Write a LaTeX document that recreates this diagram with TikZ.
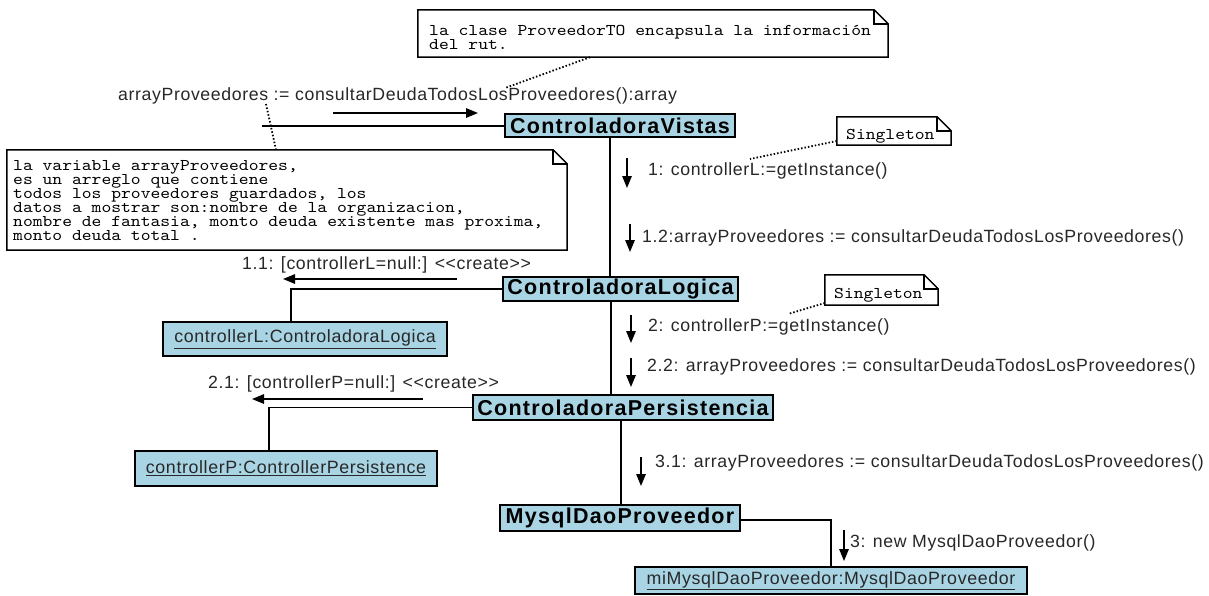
\documentclass[tikz,border=0pt]{standalone}
\usepackage{fontspec}
\setmainfont{Liberation Sans}
\newfontfamily\lblfont[LetterSpace=3.5]{Liberation Sans}
\newfontfamily\boxfont[LetterSpace=6]{Liberation Sans}
\newfontfamily\notefont[FakeStretch=1.14]{lmmono10-regular.otf}
\usetikzlibrary{arrows.meta,calc}
\definecolor{boxblue}{RGB}{168,212,228}
\definecolor{lblgray}{RGB}{40,40,40}
\lineskiplimit=-50pt
\tikzset{
  obj/.style={draw=black, line width=1.6pt, fill=boxblue, inner sep=0pt,
    font=\boxfont\bfseries\fontsize{21.5}{24}\selectfont},
  inst/.style={draw=black, line width=1.6pt, fill=boxblue, inner sep=0pt,
    font=\lblfont\fontsize{17.8}{20}\selectfont, text=lblgray},
  lbl/.style={inner sep=0pt, anchor=west, font=\lblfont\fontsize{17.7}{20}\selectfont, text=lblgray},
  msg/.style={line width=1.5pt, -{Triangle[length=12pt,width=9.5pt]}},
  link/.style={line width=1.6pt},
  dots/.style={line width=1.8pt, dash pattern=on 1.5pt off 2pt},
  notebox/.style={inner sep=0pt},
  noteline/.style={line width=1.5pt, draw=black},
  notetext/.style={inner sep=0pt, anchor=north west, align=left,
    font=\notefont\fontsize{16.4}{14}\selectfont}
}
\newcommand\dogear[1]{%
  \draw[noteline, fill=white] (#1.south west) -- (#1.north west) -- ([xshift=-14pt]#1.north east)
    -- ([yshift=-14pt]#1.north east) -- (#1.south east) -- cycle;
  \draw[noteline] ([xshift=-14pt]#1.north east) |- ([yshift=-14pt]#1.north east);}
\begin{document}
\begin{tikzpicture}[x=1pt,y=-1pt]
\useasboundingbox[fill=white] (0,0) rectangle (1209,595);

% notes
\node[notebox, minimum width=470pt, minimum height=47pt] (topnote) at (653,33.5) {};
\dogear{topnote}
\node[notetext] (topnotetext) at (429,25) {la clase ProveedorTO encapsula la información\\del rut.};

\node[notebox, minimum width=560pt, minimum height=100pt] (leftnote) at (287,200) {};
\dogear{leftnote}
\node[notetext] (leftnotetext) at (13,160) {la variable arrayProveedores,\\es un arreglo que contiene\\todos los proveedores guardados, los\\datos a mostrar son:nombre de la organizacion,\\nombre de fantasia, monto deuda existente mas proxima,\\monto deuda total .};

\node[notebox, minimum width=114pt, minimum height=28pt] (single1) at (894,131) {};
\dogear{single1}
\node[notetext] (single1text) at (846,129) {Singleton};

\node[notebox, minimum width=113pt, minimum height=30pt] (single2) at (881.5,290) {};
\dogear{single2}
\node[notetext] (single2text) at (834,288) {Singleton};

% objects
\node[obj, minimum width=230pt, minimum height=23pt] (cv) at (620,125.5) {ControladoraVistas};
\node[obj, minimum width=235pt, minimum height=24pt] (cl) at (620.5,289) {ControladoraLogica};
\node[obj, minimum width=300pt, minimum height=25pt] (cp) at (623,407.5) {ControladoraPersistencia};
\node[obj, minimum width=240pt, minimum height=26pt] (md) at (620,518) {MysqlDaoProveedor};
\node[inst, minimum width=284pt, minimum height=34pt] (cL) at (305,339) {\underline{controllerL:ControladoraLogica}};
\node[inst, minimum width=302pt, minimum height=35pt] (cP) at (286,468.5) {\underline{controllerP:ControllerPersistence}};
\node[inst, minimum width=392pt, minimum height=27pt] (mi) at (831,580.5) {\underline{miMysqlDaoProveedor:MysqlDaoProveedor}};

% links
\coordinate (cvend) at (262,126);
\draw[link] (cv.west |- cvend) -- (cvend);
\draw[link] ([xshift=-10pt]cv.south) -- ([xshift=-10pt]cv.south |- cl.north);
\draw[link] ([xshift=-9.5pt]cl.south) -- ([xshift=-9.5pt]cl.south |- cp.north);
\draw[link] ([xshift=-2pt]cp.south) -- ([xshift=-2pt]cp.south |- md.north);
\draw[link] (cl.west) -| ([xshift=-14pt]cL.north);
\draw[link] (cp.west) -| ([xshift=-17pt]cP.north);
\draw[link] ([yshift=-2pt]md.east) -| (mi.north);

% labels
\node[lbl] (ltop) at (118,96) {arrayProveedores := consultarDeudaTodosLosProveedores():array};
\node[lbl] (l1) at (648,171) {1: controllerL:=getInstance()};
\node[lbl] (l12) at (642,238) {1.2:arrayProveedores := consultarDeudaTodosLosProveedores()};
\node[lbl] (l11) at (242,265) {1.1: [controllerL=null:] <{}<create>{}>};
\node[lbl] (l2) at (648,327) {2: controllerP:=getInstance()};
\node[lbl] (l22) at (647,367) {2.2: arrayProveedores := consultarDeudaTodosLosProveedores()};
\node[lbl] (l21) at (208,384) {2.1: [controllerP=null:] <{}<create>{}>};
\node[lbl] (l31) at (655,463) {3.1: arrayProveedores := consultarDeudaTodosLosProveedores()};
\node[lbl] (l3) at (850,543) {3: new MysqlDaoProveedor()};

% message arrows
\coordinate (a0s) at (333,113); \coordinate (a0e) at (478,113);
\draw[msg] (a0s) -- (a0e);
\coordinate (a1s) at (627,158); \coordinate (a1e) at (627,188);
\draw[msg] (a1s) -- (a1e);
\coordinate (a12s) at (630,224); \coordinate (a12e) at (630,252);
\draw[msg] (a12s) -- (a12e);
\coordinate (a11s) at (457,279); \coordinate (a11e) at (283,279);
\draw[msg] (a11s) -- (a11e);
\coordinate (a2s) at (631,315); \coordinate (a2e) at (631,343);
\draw[msg] (a2s) -- (a2e);
\coordinate (a22s) at (631,358); \coordinate (a22e) at (631,387);
\draw[msg] (a22s) -- (a22e);
\coordinate (a21s) at (423,399); \coordinate (a21e) at (252,399);
\draw[msg] (a21s) -- (a21e);
\coordinate (a31s) at (641,457); \coordinate (a31e) at (641,486);
\draw[msg] (a31s) -- (a31e);
\coordinate (a3s) at (844,530); \coordinate (a3e) at (844,561);
\draw[msg] (a3s) -- (a3e);

% note connectors (dotted)
\coordinate (d0e) at (505,88);
\draw[dots] ([xshift=-63pt]topnote.south) -- (d0e);
\coordinate (d1s) at (266,104);
\draw[dots] (d1s) -- ([xshift=-11pt]leftnote.north);
\coordinate (d2e) at (750,159);
\draw[dots] ([yshift=-10pt]single1.west) -- (d2e);
\coordinate (d3e) at (788,314);
\draw[dots] ([yshift=-13pt]single2.west) -- (d3e);
\end{tikzpicture}
\end{document}
